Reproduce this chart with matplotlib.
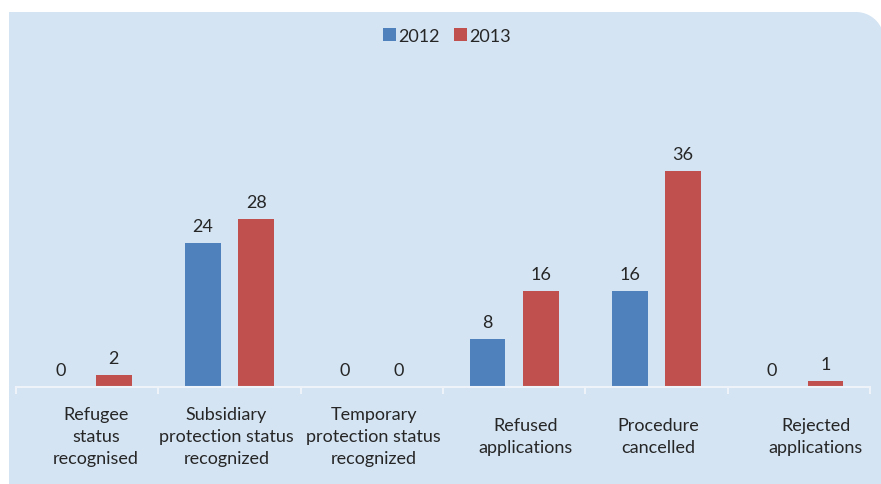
import numpy as np
import matplotlib
matplotlib.use("Agg")
import matplotlib.pyplot as plt
from matplotlib.path import Path
from matplotlib.patches import PathPatch, Patch
from matplotlib.transforms import blended_transform_factory, offset_copy

categories = ["Refugee\nstatus\nrecognised",
              "Subsidiary\nprotection status\nrecognized",
              "Temporary\nprotection status\nrecognized",
              "Refused\napplications",
              "Procedure\ncancelled",
              "Rejected\napplications"]
series_names = ["2012", "2013"]
values_2012 = [0, 24, 0, 8, 16, 0]
values_2013 = [2, 28, 0, 16, 36, 1]

# small horizontal nudges (pixels) of category labels, as in the original
label_dx = [9, -3, 2, 11, 2, 17]

BLUE = "#4F81BD"
RED = "#C0504D"
BG = "#D4E4F3"
TXT = "#262626"
AXC = "#EEF3F9"
FONT = "Lato"
FS = 13

W, H = 881, 485
fig = plt.figure(figsize=(W / 100, H / 100), dpi=100)
fig.patch.set_facecolor("white")

# background panel with rounded top-right corner (figure pixel coords)
x0, y0, x1, y1, r = 9, 0, 884, H - 13, 28
t = np.linspace(np.pi / 2, 0, 20)
pts = [(x0, y0), (x0, y1)]
pts += [(x1 - r + r * np.cos(a), y1 - r + r * np.sin(a)) for a in t]
pts += [(x1, y0), (x0, y0)]
codes = [Path.MOVETO] + [Path.LINETO] * (len(pts) - 2) + [Path.CLOSEPOLY]
px = [(x / W, y / H) for x, y in pts]
fig.patches.append(PathPatch(Path(px, codes), transform=fig.transFigure,
                             facecolor=BG, edgecolor="none", zorder=-5))

ax_left, ax_right = 16, 870
ax_bottom, ax_top = 388, 100
ax = fig.add_axes([ax_left / W, (H - ax_bottom) / H,
                   (ax_right - ax_left) / W, (ax_bottom - ax_top) / H])
ax.set_zorder(2)
ax.set_facecolor("none")
n = len(categories)
x = np.arange(n)
bw = 0.25
off = 0.1875
b1 = ax.bar(x - off, values_2012, bw, color=BLUE, zorder=2)
b2 = ax.bar(x + off, values_2013, bw, color=RED, zorder=2)
ax.set_xlim(-0.5, n - 0.5)
ax.set_ylim(0, 48)

for bars, vals in ((b1, values_2012), (b2, values_2013)):
    for rect, v in zip(bars, vals):
        ax.annotate(str(v), (rect.get_x() + rect.get_width() / 2, v),
                    xytext=(0, 8.6), textcoords="offset points",
                    ha="center", va="baseline", fontsize=FS, family=FONT,
                    color=TXT)

for s in ("top", "right", "left"):
    ax.spines[s].set_visible(False)
ax.spines["bottom"].set_color(AXC)
ax.spines["bottom"].set_linewidth(1.5)
ax.set_yticks([])
ax.set_xticks(np.arange(n + 1) - 0.5)
ax.set_xticklabels([])
ax.tick_params(axis="x", length=5, width=1.5, color=AXC, direction="out")

tr = blended_transform_factory(ax.transData, fig.transFigure)
for i, c in enumerate(categories):
    trd = offset_copy(tr, fig=fig, x=label_dx[i], y=0, units="dots")
    ax.text(i, (H - 437) / H, c, transform=trd, ha="center", va="center",
            multialignment="center", fontsize=FS, family=FONT, color=TXT,
            linespacing=1.45)

handles = [Patch(facecolor=BLUE), Patch(facecolor=RED)]
leg = fig.legend(handles, series_names, loc="center",
                 bbox_to_anchor=(447 / W, (H - 37) / H), ncol=2,
                 frameon=False, prop={"family": FONT, "size": FS},
                 handlelength=0.7, handleheight=0.7, handletextpad=0.15,
                 columnspacing=0.8)
for t_ in leg.get_texts():
    t_.set_color(TXT)

fig.savefig("out.png", dpi=100, facecolor="white")
